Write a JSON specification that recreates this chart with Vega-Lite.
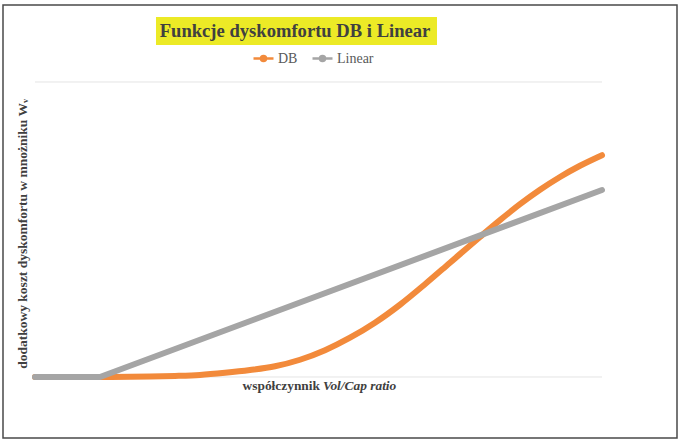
{
  "$schema": "https://vega.github.io/schema/vega-lite/v6.json",
  "autosize": {"type": "fit", "contains": "padding"},
  "width": 678,
  "height": 439,
  "padding": {"left": 3, "top": 5, "right": 1, "bottom": 1},
  "background": "white",
  "config": {"view": {"stroke": "#4a4a4a", "strokeWidth": 1.5}},
  "datasets": {
    "curves": [
      {"series": "DB", "x": 0, "y": 0},
      {"series": "DB", "x": 1.146, "y": 0},
      {"series": "DB", "x": 2.028, "y": 0.14},
      {"series": "DB", "x": 2.469, "y": 0.34},
      {"series": "DB", "x": 2.91, "y": 0.68},
      {"series": "DB", "x": 3.351, "y": 1.42},
      {"series": "DB", "x": 3.792, "y": 2.37},
      {"series": "DB", "x": 4.233, "y": 3.64},
      {"series": "DB", "x": 4.674, "y": 5.85},
      {"series": "DB", "x": 5.115, "y": 9.07},
      {"series": "DB", "x": 5.556, "y": 13.31},
      {"series": "DB", "x": 5.996, "y": 18.39},
      {"series": "DB", "x": 6.437, "y": 24.49},
      {"series": "DB", "x": 6.878, "y": 31.44},
      {"series": "DB", "x": 7.319, "y": 38.73},
      {"series": "DB", "x": 7.848, "y": 47.48},
      {"series": "DB", "x": 8.201, "y": 53.17},
      {"series": "DB", "x": 8.554, "y": 58.59},
      {"series": "DB", "x": 8.907, "y": 63.47},
      {"series": "DB", "x": 9.259, "y": 67.81},
      {"series": "DB", "x": 9.612, "y": 71.61},
      {"series": "DB", "x": 10, "y": 75.19},
      {"series": "Linear", "x": 0, "y": 0},
      {"series": "Linear", "x": 1.146, "y": 0},
      {"series": "Linear", "x": 10, "y": 63.39}
    ],
    "grid": [{"g": 0}, {"g": 100}]
  },
  "layer": [
    {
      "data": {"name": "grid"},
      "mark": {"type": "rule", "color": "#e4e4e4", "strokeWidth": 1},
      "encoding": {
        "y": {"field": "g", "type": "quantitative", "scale": {"domain": [-20.68, 126.1], "nice": false, "zero": false}, "axis": null},
        "x": {"datum": 0, "type": "quantitative", "scale": {"domain": [-0.5644, 11.323], "nice": false, "zero": false}, "axis": null},
        "x2": {"datum": 10}
      }
    },
    {
      "data": {"values": [{}]},
      "mark": {"type": "rect", "color": "#ecea26"},
      "encoding": {
        "x": {"datum": 2.134, "type": "quantitative"},
        "x2": {"datum": 7.09},
        "y": {"datum": 122.0, "type": "quantitative"},
        "y2": {"datum": 112.5}
      }
    },
    {
      "data": {"values": [{"t": "Funkcje dyskomfortu DB i Linear"}]},
      "mark": {"type": "text", "font": "Liberation Serif", "fontWeight": "bold", "fontSize": 18.6, "color": "#404040", "align": "center", "baseline": "middle"},
      "encoding": {
        "text": {"field": "t"},
        "x": {"datum": 4.586, "type": "quantitative"},
        "y": {"datum": 117.3, "type": "quantitative"}
      }
    },
    {
      "data": {"values": [{"t": "dodatkowy koszt dyskomfortu w mnożniku Wᵥ"}]},
      "mark": {"type": "text", "font": "Liberation Serif", "fontWeight": "bold", "fontSize": 13.5, "color": "#404040", "align": "center", "baseline": "middle", "angle": 270},
      "encoding": {
        "text": {"field": "t"},
        "x": {"datum": -0.2116, "type": "quantitative"},
        "y": {"datum": 48.5, "type": "quantitative"}
      }
    },
    {
      "data": {"values": [{"t": "współczynnik"}]},
      "mark": {"type": "text", "font": "Liberation Serif", "fontWeight": "bold", "fontSize": 13.4, "color": "#404040", "align": "right", "baseline": "middle"},
      "encoding": {
        "text": {"field": "t"},
        "x": {"datum": 5.026, "type": "quantitative"},
        "y": {"datum": -3.05, "type": "quantitative"}
      }
    },
    {
      "data": {"values": [{"t": "Vol/Cap ratio"}]},
      "mark": {"type": "text", "font": "Liberation Serif", "fontWeight": "bold", "fontStyle": "italic", "fontSize": 13.4, "color": "#404040", "align": "left", "baseline": "middle"},
      "encoding": {
        "text": {"field": "t"},
        "x": {"datum": 5.079, "type": "quantitative"},
        "y": {"datum": -3.05, "type": "quantitative"}
      }
    },
    {
      "data": {"name": "curves"},
      "transform": [{"filter": "datum.series === 'DB'"}],
      "mark": {"type": "line", "strokeWidth": 6, "strokeCap": "round", "strokeJoin": "round", "interpolate": "monotone"},
      "encoding": {
        "x": {"field": "x", "type": "quantitative"},
        "y": {"field": "y", "type": "quantitative"},
        "color": {
          "field": "series", "type": "nominal",
          "scale": {"domain": ["DB", "Linear"], "range": ["#f28a3b", "#a5a5a5"]},
          "legend": {
            "title": null, "orient": "none", "legendX": 249, "legendY": 42, "direction": "horizontal",
            "padding": 0, "columnPadding": 9, "labelOffset": 3,
            "labelFont": "Liberation Serif", "labelFontSize": 14, "labelColor": "#595959",
            "symbolType": "M-1,0H1M0.25,0A0.25,0.25,0,1,1,-0.25,0A0.25,0.25,0,1,1,0.25,0Z",
            "symbolSize": 400, "symbolStrokeWidth": 2.5,
            "encode": {"symbols": {"update": {"fill": {"scale": "color", "field": "value"}}}}
          }
        }
      }
    },
    {
      "data": {"name": "curves"},
      "transform": [{"filter": "datum.series === 'Linear'"}],
      "mark": {"type": "line", "strokeWidth": 6, "strokeCap": "round", "strokeJoin": "round"},
      "encoding": {
        "x": {"field": "x", "type": "quantitative"},
        "y": {"field": "y", "type": "quantitative"},
        "color": {"field": "series", "type": "nominal"}
      }
    }
  ]
}
